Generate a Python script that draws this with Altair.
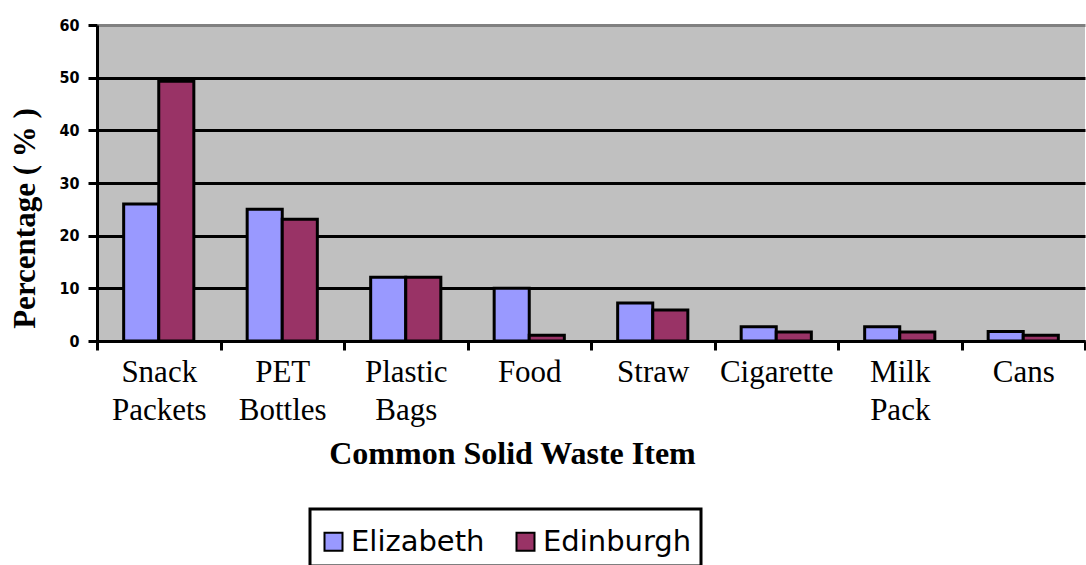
import altair as alt
import pandas as pd

categories = ["Snack Packets", "PET Bottles", "Plastic Bags", "Food", "Straw",
              "Cigarette", "Milk Pack", "Cans"]
series = ["Elizabeth", "Edinburgh"]
elizabeth = [26, 25, 12.1, 10, 7.2, 2.7, 2.7, 1.8]
edinburgh = [49.3, 23.1, 12.1, 1.1, 5.9, 1.7, 1.7, 1.1]
colors = ["#9999FF", "#993366"]
y_ticks = [0, 10, 20, 30, 40, 50, 60]

rows = []
for c, a, b in zip(categories, elizabeth, edinburgh):
    rows.append({"item": c, "city": series[0], "value": a})
    rows.append({"item": c, "city": series[1], "value": b})
df = pd.DataFrame(rows)

bars = alt.Chart(df).mark_bar(stroke="black", strokeWidth=3).encode(
    x=alt.X("item:N", sort=categories,
            scale=alt.Scale(paddingInner=0, paddingOuter=0),
            axis=alt.Axis(
                title="Common Solid Waste Item",
                titleFont="Liberation Serif", titleFontSize=32, titleFontWeight="bold",
                titleColor="black", titleX=415, titleY=122, titleBaseline="alphabetic",
                titleAnchor="start", titleAlign="center",
                labelFont="Liberation Serif", labelFontSize=31, labelColor="black",
                labelExpr="split(datum.label, ' ')", labelLineHeight=38,
                labelPadding=7, labelAngle=0, labelBaseline="top",
                tickBand="extent", tickSize=9, tickWidth=3, tickColor="black",
                domainColor="black", domainWidth=3, grid=False,
            )),
    xOffset=alt.XOffset("city:N", sort=series,
                        scale=alt.Scale(paddingInner=0, paddingOuter=0.76)),
    y=alt.Y("value:Q",
            scale=alt.Scale(domain=[0, 60], nice=False),
            axis=alt.Axis(
                title="Percentage ( % )",
                titleFont="Liberation Serif", titleFontSize=31, titleFontWeight="bold",
                titleColor="black", titlePadding=17, titleY=193, titleAlign="center",
                values=y_ticks,
                labelFont="DejaVu Sans Condensed", labelFontSize=16, labelFontWeight="bold",
                labelColor="black", labelPadding=9,
                tickSize=9, tickWidth=3, tickColor="black",
                domainColor="black", domainWidth=3,
                grid=True, gridWidth=3,
                gridColor=alt.condition("datum.value == 60", alt.value("#808080"), alt.value("black")),
            )),
    color=alt.Color("city:N", sort=series,
                    scale=alt.Scale(domain=series, range=colors),
                    legend=alt.Legend(
                        title=" ", titleFontSize=8, titlePadding=1,
                        orient="none", legendX=213, legendY=484,
                        direction="horizontal",
                        strokeColor="black", fillColor="white",
                        padding=9, symbolType="square", symbolSize=324,
                        symbolStrokeColor="black", symbolStrokeWidth=2,
                        symbolOpacity=1,
                        labelFont="DejaVu Sans", labelFontSize=29, labelColor="black",
                        labelLimit=300, columnPadding=26, labelOffset=3,
                        symbolOffset=0,
                    )),
)

chart = bars.properties(
    width=988, height=316,
    padding={"left": 97, "top": 25, "right": 1, "bottom": 224},
    autosize=alt.AutoSizeParams(type="none"),
    background="white",
).configure_view(fill="#C0C0C0", stroke=None).configure_legend(strokeWidth=3)

chart.save("out.html", embed_options={"renderer": "svg", "actions": False})
